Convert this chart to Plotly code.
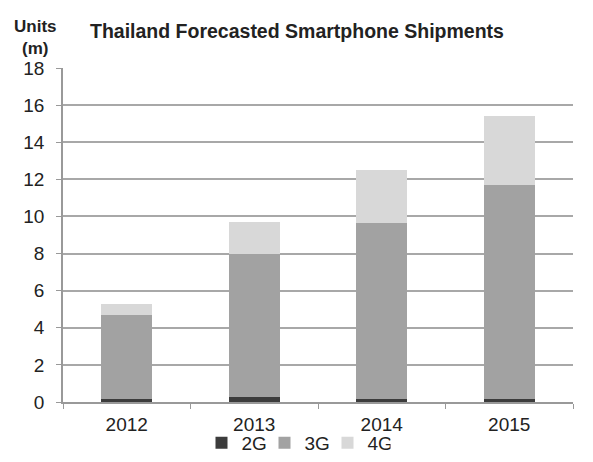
import plotly.graph_objects as go

years = ["2012", "2013", "2014", "2015"]
g2 = [0.15, 0.25, 0.15, 0.15]
g3 = [4.54, 7.71, 9.50, 11.56]
g4 = [0.61, 1.73, 2.84, 3.69]
y_ticks = [0, 2, 4, 6, 8, 10, 12, 14, 16, 18]

fig = go.Figure()
fig.add_bar(x=years, y=g2, name="2G", marker=dict(color="#3c3c3c", line=dict(width=0)))
fig.add_bar(x=years, y=g3, name="3G", marker=dict(color="#a2a2a2", line=dict(width=0)))
fig.add_bar(x=years, y=g4, name="4G", marker=dict(color="#d8d8d8", line=dict(width=0)))

W, H = 585, 454
L, R, T, B = 55, 20, 60, 60
PH = H - T - B
PW = W - L - R

fig.update_layout(
    barmode="stack",
    bargap=0.6,
    width=W, height=H,
    margin=dict(l=L, r=R, t=T, b=B, autoexpand=False),
    paper_bgcolor="white", plot_bgcolor="white",
    font=dict(family="Liberation Sans, Arial, sans-serif", size=19, color="#222222"),
    showlegend=True,
    legend=dict(orientation="h", x=(288 - L) / PW, xanchor="center", y=-41 / PH,
                yanchor="middle",
                font=dict(size=19), itemwidth=30, traceorder="normal",
                entrywidth=18, entrywidthmode="pixels", itemclick=False,
                bgcolor="rgba(0,0,0,0)"),
)
fig.add_annotation(text="<b>Thailand Forecasted Smartphone Shipments</b>",
                   xref="paper", yref="paper", x=(80 - L) / PW, y=1 + (T - 23) / PH,
                   xanchor="left", yanchor="middle", showarrow=False, font=dict(size=19.5))
fig.add_annotation(text="<b>Units<br>(m)</b>",
                   xref="paper", yref="paper", x=(27 - L) / PW, y=1 + (T - 29) / PH,
                   xanchor="center", yanchor="middle", showarrow=False,
                   font=dict(size=17), align="center")

fig.update_xaxes(showgrid=False, showline=True, linecolor="#999999", linewidth=1.5,
                 ticks="outside", tickson="boundaries", ticklen=5, tickcolor="#999999",
                 tickfont=dict(size=19), ticklabelstandoff=4)
fig.update_yaxes(range=[0, 18], tickvals=y_ticks, showgrid=True, gridcolor="#a8a8a8",
                 gridwidth=2, showline=True, linecolor="#999999", linewidth=1.5,
                 ticks="outside", ticklen=5, tickcolor="#999999", zeroline=False,
                 tickfont=dict(size=19), ticklabelstandoff=8)

fig.write_html("out.html")
